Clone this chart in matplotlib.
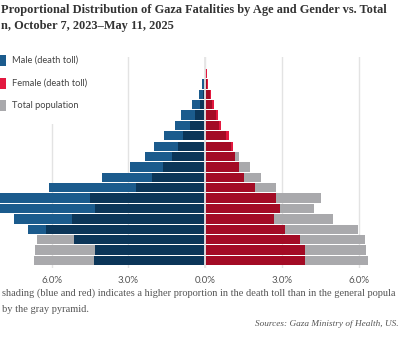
import matplotlib
matplotlib.use("Agg")
import matplotlib.pyplot as plt
from matplotlib.patches import Rectangle
import numpy as np

# ---------------- data (bottom row = youngest age group) ----------------
ages = ["0–4", "5–9", "10–14", "15–19", "20–24", "25–29", "30–34", "35–39",
        "40–44", "45–49", "50–54", "55–59", "60–64", "65–69", "70–74",
        "75–79", "80–84", "85–89", "90+"]
male_death = [4.34, 4.32, 5.12, 6.94, 7.49, 8.50, 8.30, 6.12, 4.04, 2.93,
              2.34, 1.99, 1.60, 1.17, 0.93, 0.51, 0.23, 0.13, 0.02]
male_pop = [6.71, 6.67, 6.57, 6.22, 5.20, 4.31, 4.52, 2.71, 2.08, 1.65,
            1.30, 1.08, 0.89, 0.61, 0.42, 0.22, 0.10, 0.05, 0.01]
female_death = [3.88, 3.88, 3.71, 3.10, 2.67, 2.93, 2.76, 1.95, 1.52, 1.32,
                1.15, 1.08, 0.91, 0.63, 0.48, 0.33, 0.23, 0.12, 0.07]
female_pop = [6.34, 6.29, 6.22, 5.95, 4.99, 4.23, 4.53, 2.77, 2.18, 1.73,
              1.33, 1.00, 0.82, 0.55, 0.40, 0.27, 0.17, 0.08, 0.03]
tick_values = [-6, -3, 0, 3, 6]
tick_labels = ["6.0%", "3.0%", "0.0%", "3.0%", "6.0%"]
legend_labels = ["Male (death toll)", "Female (death toll)", "Total population"]

title_l1 = "Proportional Distribution of Gaza Fatalities by Age and Gender vs. Total"
title_l2 = "n, October 7, 2023\u2013May 11, 2025"
note_l1 = "shading (blue and red) indicates a higher proportion in the death toll than in the general popula"
note_l2 = "by the gray pyramid."
source = "Sources: Gaza Ministry of Health, US."

# ---------------- style ----------------
BLUE = "#1b5b8d"
NAVY = "#0b3558"
RED = "#e3183f"
DRED = "#a30b25"
GRAY = "#a9a9ac"
GRID = "#e3e3e3"

W, H = 400, 340
fig = plt.figure(figsize=(W / 100, H / 100), dpi=100)
fig.patch.set_facecolor("white")


def fx(x):
    return x / W


def fy(y):
    return 1 - y / H


cx, s = 205.3, 25.6
ax_top, ax_bot = 57, 268
pitch = 10.39
ax = fig.add_axes([0, fy(ax_bot), 1, (ax_bot - ax_top) / H])
ymin = -(ax_bot - 260.5) / pitch
ymax = ymin + (ax_bot - ax_top) / pitch
ax.set_xlim(-cx / s, (W - cx) / s)
ax.set_ylim(ymin, ymax)

y = np.arange(len(ages))
md, mp = np.array(male_death), np.array(male_pop)
fd, fp = np.array(female_death), np.array(female_pop)
h = 0.9
ax.barh(y, -mp, height=h, color=GRAY, zorder=2, linewidth=0)
ax.barh(y, -md, height=h, color=BLUE, zorder=3, linewidth=0)
ax.barh(y, -np.minimum(mp, md), height=h, color=NAVY, zorder=4, linewidth=0)
ax.barh(y, fp, height=h, color=GRAY, zorder=2, linewidth=0)
ax.barh(y, fd, height=h, color=RED, zorder=3, linewidth=0)
ax.barh(y, np.minimum(fp, fd), height=h, color=DRED, zorder=4, linewidth=0)

ax.axvline(0, color="#e6e6e6", lw=1.3, zorder=5)
ax.set_xticks(tick_values)
ax.set_xticklabels(tick_labels)
ax.set_yticks([])
ax.grid(axis="x", color=GRID, lw=1, zorder=0)
ax.set_axisbelow(True)
for sp in ax.spines.values():
    sp.set_visible(False)
ax.tick_params(axis="x", length=0, pad=5.5, labelsize=7, labelcolor="#555555")
for lab in ax.get_xticklabels():
    lab.set_fontfamily("Lato")

renderer = fig.canvas.get_renderer()


def fit(t, target_w):
    w = t.get_window_extent(renderer).width
    t.set_fontsize(t.get_fontsize() * target_w / w)


# ---------------- legend (manual) ----------------
fig.add_artist(Rectangle((fx(0), fy(124)), fx(95), 67 / H, transform=fig.transFigure,
                         facecolor="white", edgecolor="none", zorder=1))
leg_colors = [BLUE, RED, GRAY]
leg_y = [60, 83.5, 106]
for lab, col, yy in zip(legend_labels, leg_colors, leg_y):
    fig.add_artist(Rectangle((fx(-3), fy(yy + 5.5)), 9 / W, 11 / H, transform=fig.transFigure,
                             facecolor=col, edgecolor="none", zorder=2))
    t = fig.text(fx(11.7), fy(yy), lab, ha="left", va="center", fontsize=7,
                 color="#444444", family="Lato", zorder=3)
    if lab.startswith("Female"):
        fit(t, 75.6)
        leg_fs = t.get_fontsize()
for t in fig.texts:
    t.set_fontsize(leg_fs)

# ---------------- titles and notes ----------------
t1 = fig.text(fx(1), fy(13.5), title_l1, ha="left", va="baseline", fontsize=10,
              family="Liberation Serif", weight="bold", color="#333333")
fit(t1, 384)
t2 = fig.text(fx(1), fy(28.5), title_l2, ha="left", va="baseline", fontsize=t1.get_fontsize(),
              family="Liberation Serif", weight="bold", color="#333333")

n1 = fig.text(fx(1.5), fy(296), note_l1, ha="left", va="baseline", fontsize=7,
              family="Liberation Serif", color="#555555")
fit(n1, 397)
n2 = fig.text(fx(1.5), fy(312), note_l2, ha="left", va="baseline", fontsize=n1.get_fontsize(),
              family="Liberation Serif", color="#555555")
sc = fig.text(fx(398.5), fy(326.5), source, ha="right", va="baseline", fontsize=7,
              family="Liberation Serif", style="italic", color="#555555")
fit(sc, 143)

fig.savefig("out.png", dpi=100, facecolor="white")
